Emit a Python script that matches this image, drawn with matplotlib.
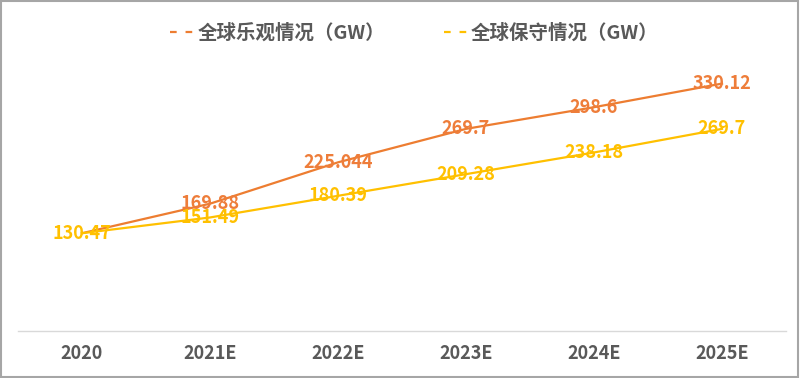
import matplotlib
matplotlib.use("Agg")
import matplotlib.pyplot as plt
from matplotlib.patches import Rectangle
from matplotlib.lines import Line2D

plt.rcParams['font.family'] = ['Noto Sans CJK SC', 'DejaVu Sans']

categories = ["2020", "2021E", "2022E", "2023E", "2024E", "2025E"]
optimistic = [130.47, 169.88, 225.044, 269.7, 298.6, 330.12]
conservative = [130.47, 151.49, 180.39, 209.28, 238.18, 269.7]
optimistic_labels = ["", "169.88", "225.044", "269.7", "298.6", "330.12"]
conservative_labels = ["130.47", "151.49", "180.39", "209.28", "238.18", "269.7"]
series_names = ["全球乐观情况（GW）", "全球保守情况（GW）"]

c_opt = "#ED7D31"
c_con = "#FFC000"

fig = plt.figure(figsize=(8.0, 3.78), dpi=100)
ax = fig.add_axes([0.0225, 0.1243, 0.96, 0.694])

x = list(range(len(categories)))
ax.plot(x, optimistic, color=c_opt, lw=1.6, zorder=2)
ax.plot(x, conservative, color=c_con, lw=1.6, zorder=2)

for xi, v, t in zip(x, optimistic, optimistic_labels):
    if t:
        ax.text(xi, v, t, ha='center', va='center', color="#EE7D3A",
                fontsize=13, fontweight='bold', zorder=3)
for xi, v, t in zip(x, conservative, conservative_labels):
    ax.text(xi, v, t, ha='center', va='center', color=c_con,
            fontsize=13, fontweight='bold', zorder=3)

ax.set_xlim(-0.5, len(categories) - 0.5)
ax.set_ylim(0, 350)
ax.set_xticks(x)
ax.set_xticklabels(categories, fontsize=13, fontweight='bold', color="#595959")
ax.tick_params(axis='x', length=0, pad=9)
ax.set_yticks([])
for s in ['top', 'right', 'left']:
    ax.spines[s].set_visible(False)
ax.spines['bottom'].set_color("#D9D9D9")
ax.spines['bottom'].set_linewidth(1.0)

handles = [Line2D([0], [0], color=c_opt, lw=1.6, ls=(0, (3, 4))),
           Line2D([0], [0], color=c_con, lw=1.6, ls=(0, (3, 4)))]
leg = fig.legend(handles, series_names, loc='center', bbox_to_anchor=(0.518, 0.913),
                 ncol=2, frameon=False,
                 prop={'weight': 'bold', 'size': 14}, handlelength=1.3,
                 handletextpad=0.1, columnspacing=3.0)
for t in leg.get_texts():
    t.set_color("#595959")

fig.patches.append(Rectangle((0.001, 0.002), 0.997, 0.995, transform=fig.transFigure,
                             fill=False, edgecolor="#A6A6A6", lw=1.5))

fig.savefig("out.png", dpi=100)
